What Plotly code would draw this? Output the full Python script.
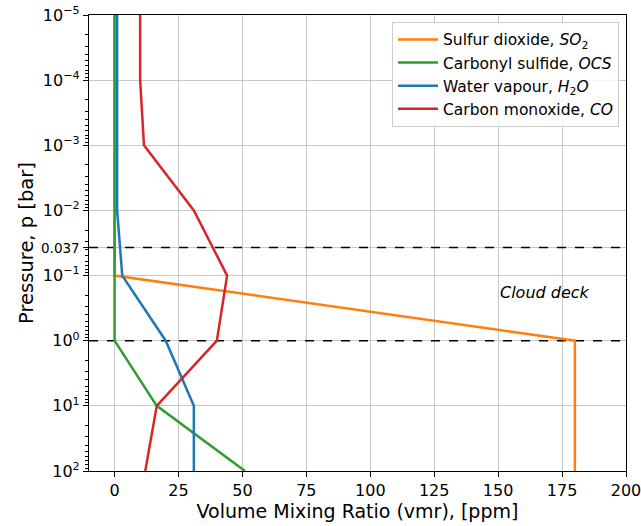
import math
import plotly.graph_objects as go

# Vertical profiles: pressure levels [bar] and volume mixing ratios [ppm]
so2_p = [1e-5, 0.1, 1.0, 100.0]
so2_vmr = [0, 0, 180, 180]

ocs_p = [1e-5, 1.0, 10.0, 100.0]
ocs_vmr = [0, 0, 16.5, 51]

h2o_p = [1e-5, 1e-2, 0.1, 1.0, 10.0, 100.0]
h2o_vmr = [1, 1, 3, 20, 31, 31]

co_p = [1e-5, 1e-4, 1e-3, 1e-2, 0.1, 1.0, 10.0, 100.0]
co_vmr = [10, 10, 11.5, 31, 44, 40, 16.5, 12]

# Cloud deck boundaries [bar]
cloud_top = 0.037
cloud_base = 1.0

x_ticks = [0, 25, 50, 75, 100, 125, 150, 175, 200]
y_ticks = [1e-5, 1e-4, 1e-3, 1e-2, cloud_top, 1e-1, 1e0, 1e1, 1e2]
y_ticktext = ["10<sup>−5</sup>", "10<sup>−4</sup>", "10<sup>−3</sup>", "10<sup>−2</sup>",
              "<span style='font-size:13.5px'>0.037</span>",
              "10<sup>−1</sup>", "10<sup>0</sup>", "10<sup>1</sup>", "10<sup>2</sup>"]

FONT = "DejaVu Sans"

series = [
    ("Sulfur dioxide, <i>SO</i><sub>2</sub>", so2_vmr, so2_p, "#ff7f0e"),
    ("Carbonyl sulfide, <i>OCS</i>", ocs_vmr, ocs_p, "#2ca02c"),
    ("Water vapour, <i>H</i><sub>2</sub><i>O</i>", h2o_vmr, h2o_p, "#1f77b4"),
    ("Carbon monoxide, <i>CO</i>", co_vmr, co_p, "#d62728"),
]

fig = go.Figure()

for p_level in (cloud_top, cloud_base):
    fig.add_trace(go.Scatter(
        x=[-10, 200], y=[p_level, p_level], mode="lines",
        line=dict(color="black", width=1.5, dash="dash"),
        showlegend=False, hoverinfo="skip"))

for i, (name, vmr, p, color) in enumerate(series):
    fig.add_trace(go.Scatter(
        x=vmr, y=p, mode="lines", name=name, legendgroup=f"g{i}",
        line=dict(color=color, width=2.5)))

minor_vals = [m * 10 ** k for k in range(-5, 2) for m in range(2, 10)]

fig.update_layout(
    width=641, height=526,
    margin=dict(l=89, r=15, t=15, b=55),
    paper_bgcolor="white", plot_bgcolor="white",
    font=dict(family=FONT, size=16, color="black"),
    xaxis=dict(
        range=[-10, 200], tickmode="array", tickvals=x_ticks,
        showgrid=True, gridcolor="#c8c8c8", gridwidth=1,
        ticks="outside", ticklen=5, tickcolor="black",
        showline=True, linecolor="black", linewidth=1.2, mirror=True,
        zeroline=False, automargin=False, ticklabeloverflow="allow",
        title=dict(text="Volume Mixing Ratio (vmr), [ppm]", standoff=4,
                   font=dict(size=19)),
    ),
    yaxis=dict(
        type="log", range=[2, -5], tickmode="array",
        tickvals=y_ticks, ticktext=y_ticktext,
        showgrid=True, gridcolor="#c8c8c8", gridwidth=1,
        ticks="outside", ticklen=5, tickcolor="black",
        minor=dict(tickmode="array", tickvals=minor_vals, ticks="outside",
                   ticklen=3, tickcolor="black", showgrid=False),
        showline=True, linecolor="black", linewidth=1.2, mirror=True,
        zeroline=False, automargin=False, ticklabeloverflow="allow",
        title=dict(text="Pressure, p [bar]", standoff=2, font=dict(size=19.5)),
    ),
    legend=dict(
        x=0.987, y=0.985, xanchor="right", yanchor="top",
        bgcolor="rgba(255,255,255,0.85)", bordercolor="#cccccc", borderwidth=1,
        font=dict(family=FONT, size=15.5), tracegroupgap=0, itemwidth=40,
    ),
    annotations=[dict(
        x=150, y=math.log10(0.18), xref="x", yref="y",
        text="<i>Cloud deck</i>", showarrow=False, xanchor="left",
        font=dict(family=FONT, size=16, color="black"),
    )],
)

fig.write_html("out.html")
